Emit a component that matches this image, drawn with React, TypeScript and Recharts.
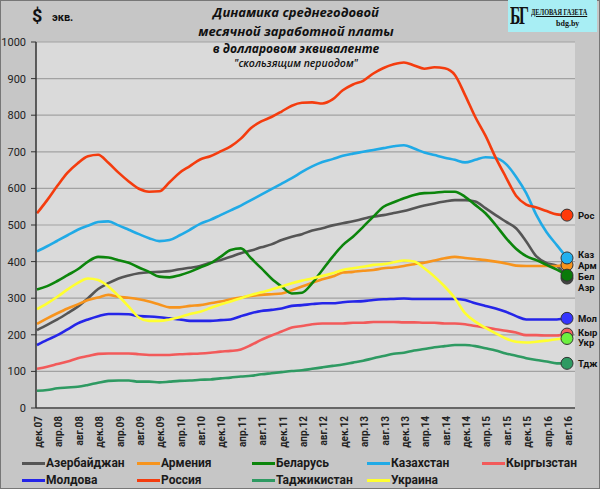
// App.tsx
import { LineChart, Line, XAxis, YAxis, CartesianGrid } from 'recharts';

const months = [
  'дек.07', 'фев.08', 'апр.08', 'июн.08', 'авг.08', 'окт.08', 'дек.08', 'фев.09', 'апр.09', 'июн.09',
  'авг.09', 'окт.09', 'дек.09', 'фев.10', 'апр.10', 'июн.10', 'авг.10', 'окт.10', 'дек.10', 'фев.11',
  'апр.11', 'июн.11', 'авг.11', 'окт.11', 'дек.11', 'фев.12', 'апр.12', 'июн.12', 'авг.12', 'окт.12',
  'дек.12', 'фев.13', 'апр.13', 'июн.13', 'авг.13', 'окт.13', 'дек.13', 'фев.14', 'апр.14', 'июн.14',
  'авг.14', 'окт.14', 'дек.14', 'фев.15', 'апр.15', 'июн.15', 'авг.15', 'окт.15', 'дек.15', 'фев.16',
  'апр.16', 'июн.16', 'авг.16',
];

const azerbaijan = [213, 227, 242, 259, 277, 300, 325, 341, 354, 362, 368, 371, 372, 374, 379, 383, 388, 397, 404, 413, 423, 430, 439, 447, 459, 468, 475, 485, 491, 499, 505, 510, 517, 523, 527, 533, 538, 546, 553, 559, 564, 568, 568, 564, 546, 527, 509, 491, 455, 414, 396, 388, 355];
const armenia = [230, 245, 259, 272, 283, 295, 302, 309, 304, 301, 297, 291, 283, 275, 275, 279, 281, 286, 291, 297, 302, 306, 309, 311, 313, 322, 332, 342, 352, 359, 370, 372, 375, 377, 382, 384, 388, 393, 397, 403, 409, 413, 410, 407, 404, 400, 395, 389, 388, 388, 388, 388, 391];
const belarus = [324, 333, 347, 363, 379, 400, 413, 411, 404, 397, 384, 372, 359, 357, 363, 372, 384, 395, 413, 432, 436, 409, 382, 354, 332, 313, 315, 341, 377, 413, 445, 468, 495, 523, 550, 562, 573, 582, 587, 588, 591, 591, 577, 555, 532, 500, 465, 435, 415, 404, 391, 378, 363];
const kazakhstan = [428, 442, 457, 472, 487, 498, 508, 510, 499, 487, 475, 464, 456, 459, 472, 487, 503, 514, 527, 540, 553, 568, 583, 598, 613, 628, 645, 660, 672, 680, 689, 695, 700, 705, 710, 715, 718, 709, 698, 691, 684, 678, 671, 678, 685, 683, 667, 632, 587, 527, 480, 445, 410];
const kyrgyzstan = [107, 113, 120, 127, 136, 142, 148, 149, 149, 149, 147, 145, 145, 145, 147, 148, 149, 151, 154, 156, 160, 172, 186, 198, 209, 220, 224, 229, 231, 231, 231, 233, 233, 235, 235, 235, 234, 234, 233, 233, 231, 231, 229, 224, 220, 215, 211, 206, 199, 199, 198, 198, 202];
const moldova = [172, 186, 199, 215, 231, 242, 251, 257, 257, 256, 251, 250, 248, 245, 242, 238, 238, 238, 240, 242, 251, 259, 265, 268, 272, 279, 281, 284, 286, 286, 289, 291, 292, 295, 297, 298, 299, 298, 298, 298, 298, 298, 295, 286, 279, 272, 263, 251, 242, 242, 242, 242, 245];
const russia = [532, 568, 607, 643, 669, 688, 692, 670, 643, 619, 599, 591, 592, 617, 643, 661, 679, 688, 701, 715, 736, 765, 783, 795, 810, 826, 834, 835, 832, 843, 868, 884, 894, 914, 929, 939, 944, 936, 927, 931, 928, 910, 855, 795, 744, 684, 631, 580, 556, 548, 538, 529, 527];
const tajikistan = [47, 49, 54, 56, 58, 63, 69, 74, 75, 75, 72, 72, 70, 72, 74, 75, 77, 78, 81, 83, 86, 88, 92, 95, 98, 101, 103, 107, 111, 115, 119, 124, 129, 136, 142, 148, 151, 157, 161, 166, 169, 172, 172, 169, 163, 157, 149, 143, 136, 131, 127, 122, 122];
const ukraine = [270, 286, 304, 324, 342, 354, 350, 332, 306, 277, 247, 238, 238, 242, 248, 257, 263, 273, 283, 291, 300, 309, 316, 324, 332, 341, 348, 354, 361, 368, 377, 382, 386, 391, 393, 398, 403, 400, 382, 359, 332, 300, 259, 236, 219, 204, 190, 181, 179, 181, 184, 188, 190];

const yTicks = [0, 100, 200, 300, 400, 500, 600, 700, 800, 900, 1000];

// legend order = drawing order; dy nudges the end label so stacked ones stay readable
const series = [
  { key: 'az', name: 'Азербайджан', short: 'Азр', values: azerbaijan, color: '#555555', dot: '#444444', dy: 9 },
  { key: 'am', name: 'Армения', short: 'Арм', values: armenia, color: '#f7941d', dot: '#f7941d', dy: 1 },
  { key: 'by', name: 'Беларусь', short: 'Бел', values: belarus, color: '#0c850c', dot: '#0a7a0a', dy: 1.5 },
  { key: 'kz', name: 'Казахстан', short: 'Каз', values: kazakhstan, color: '#20aae6', dot: '#22b0ee', dy: -3 },
  { key: 'kg', name: 'Кыргызстан', short: 'Кыр', values: kyrgyzstan, color: '#f25a5a', dot: '#f06060', dy: -2 },
  { key: 'md', name: 'Молдова', short: 'Мол', values: moldova, color: '#2525e8', dot: '#3535ff', dy: 0 },
  { key: 'ru', name: 'Россия', short: 'Рос', values: russia, color: '#f43c0e', dot: '#ff3a0a', dy: 0 },
  { key: 'tj', name: 'Таджикистан', short: 'Тдж', values: tajikistan, color: '#2e9a62', dot: '#2e9a62', dy: 0 },
  { key: 'ua', name: 'Украина', short: 'Укр', values: ukraine, color: '#ffff30', dot: '#6cf040', dy: 4 },
];

const data = months.map((m, i) => {
  const row: Record<string, string | number> = { m };
  series.forEach((s) => { row[s.key] = s.values[i]; });
  return row;
});

const last = months.length - 1;

const XTick = ({ x, y, payload }: any) => (
  <text transform={`translate(${x + 5},${y}) rotate(-90)`} textAnchor="end"
    fontSize={10} fontWeight="bold" fill="#222" fontFamily="Roboto">
    {payload.value}
  </text>
);

const endDot = (s: typeof series[number]) => (p: any) => {
  if (p.index !== last) return <g key={`d-${s.key}-${p.index}`} />;
  return (
    <g key={`d-${s.key}-${p.index}`}>
      <circle cx={p.cx} cy={p.cy} r={6} fill={s.dot} stroke="#333" strokeWidth={1} />
      <text x={p.cx + 11} y={p.cy + s.dy} dominantBaseline="central" fontSize={9.5}
        fontWeight="bold" fill="#111" fontFamily="Roboto">{s.short}</text>
    </g>
  );
};

const legendCols = [22, 137, 252, 367, 482];
const legendRows = [463, 480];

export default function App() {
  return (
    <div style={{ position: 'absolute', left: 0, top: 0, width: 600, height: 489, background: '#c6c6c6', boxShadow: 'inset 0 0 0 1px #777', fontFamily: 'Roboto' }}>
      <LineChart width={600} height={489} data={data} margin={{ top: 42, right: 25, left: 6, bottom: 41 }}>
        <CartesianGrid vertical={false} fill="#dadada" stroke="#a2a2a2" strokeWidth={1.2} />
        <XAxis dataKey="m" interval={1} height={40} padding={{ left: 1, right: 8 }}
          tickLine={false} axisLine={{ stroke: '#666', strokeWidth: 2 }} tick={<XTick />} />
        <YAxis domain={[0, 1000]} ticks={yTicks} interval={0} width={30} tickSize={5} tickMargin={5}
          axisLine={{ stroke: '#333', strokeWidth: 1.5 }} tickLine={{ stroke: '#333' }}
          tick={{ fontSize: 11, fill: '#222', fontFamily: 'Roboto' }} />
        {series.map((s) => (
          <Line key={s.key} type="monotone" dataKey={s.key} name={s.name} stroke={s.color}
            strokeWidth={2.6} dot={endDot(s)} activeDot={false} isAnimationActive={false} />
        ))}
      </LineChart>

      <div style={{ position: 'absolute', left: 32, top: 5, fontSize: 18, fontWeight: 'bold', color: '#111' }}>$</div>
      <div style={{ position: 'absolute', left: 52, top: 11, fontSize: 11, fontWeight: 'bold', color: '#111' }}>экв.</div>

      <div style={{ position: 'absolute', left: 0, top: 0, width: 592, textAlign: 'center', fontFamily: 'Open Sans', fontStyle: 'italic', fontWeight: 'bold', color: '#111', lineHeight: 1.2 }}>
        <div style={{ position: 'absolute', top: 5, width: '100%', fontSize: 13 }}>Динамика среднегодовой</div>
        <div style={{ position: 'absolute', top: 24, width: '100%', fontSize: 13 }}>месячной заработной платы</div>
        <div style={{ position: 'absolute', top: 42, width: '100%', fontSize: 12 }}>в долларовом эквиваленте</div>
        <div style={{ position: 'absolute', top: 57, width: '100%', fontSize: 10.5, fontWeight: 600 }}>"скользящим периодом"</div>
      </div>

      <div style={{ position: 'absolute', left: 508, top: 0, width: 89, height: 32, background: '#a8eef4', fontFamily: 'Liberation Serif', fontWeight: 'bold', color: '#111', overflow: 'hidden' }}>
        <div style={{ position: 'absolute', left: 2, top: 3, fontSize: 26, lineHeight: '26px', letterSpacing: -2, transform: 'scaleX(0.6)', transformOrigin: 'left' }}>БГ</div>
        <div style={{ position: 'absolute', left: 23, top: 7, fontSize: 9, textDecoration: 'underline', whiteSpace: 'nowrap', transform: 'scaleX(0.7)', transformOrigin: 'left' }}>ДЕЛОВАЯ ГАЗЕТА</div>
        <div style={{ position: 'absolute', left: 48, top: 19, fontSize: 8 }}>bdg.by</div>
      </div>

      {series.map((s, i) => (
        <div key={s.key} style={{ position: 'absolute', left: legendCols[i % 5], top: legendRows[Math.floor(i / 5)] - 8, height: 16, display: 'flex', alignItems: 'center', whiteSpace: 'nowrap' }}>
          <div style={{ width: 23, height: 3, background: s.color, marginRight: 1 }} />
          <span style={{ fontSize: 12, fontWeight: 'bold', color: '#1a1a1a' }}>{s.name}</span>
        </div>
      ))}
    </div>
  );
}
